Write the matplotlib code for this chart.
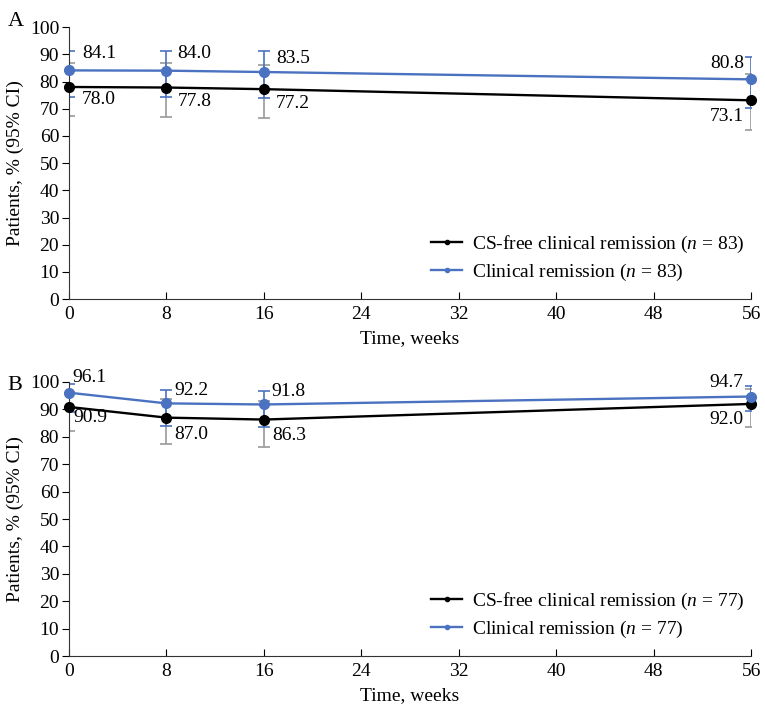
import matplotlib
matplotlib.use("Agg")
import matplotlib.pyplot as plt

plt.rcParams["font.family"] = ["Liberation Serif", "DejaVu Serif"]
plt.rcParams["font.size"] = 14
plt.rcParams["mathtext.fontset"] = "custom"
plt.rcParams["mathtext.it"] = "Liberation Serif:italic"
plt.rcParams["mathtext.rm"] = "Liberation Serif"

weeks = [0, 8, 16, 56]

# Panel A (n = 83)
a_cs = [78.0, 77.8, 77.2, 73.1]
a_cs_lo = [67.3, 67.0, 66.5, 62.1]
a_cs_hi = [86.8, 86.8, 86.0, 82.6]
a_cr = [84.1, 84.0, 83.5, 80.8]
a_cr_lo = [74.3, 74.2, 73.9, 70.3]
a_cr_hi = [91.2, 91.2, 91.2, 89.0]

# Panel B (n = 77)
b_cs = [90.9, 87.0, 86.3, 92.0]
b_cs_lo = [82.2, 77.4, 76.4, 83.6]
b_cs_hi = [96.3, 93.8, 93.2, 97.4]
b_cr = [96.1, 92.2, 91.8, 94.7]
b_cr_lo = [89.0, 84.0, 83.6, 89.4]
b_cr_hi = [99.2, 97.1, 96.8, 98.5]

BLUE = "#4a72c0"
GRAY = "#9a9a9a"

# label offsets in pixels (dx, dy, ha) per point
off_top_a = [(13, 17, "left"), (11, 17, "left"), (12, 14, "left"), (-7, 16, "right")]
off_bot_a = [(13, -13, "left"), (11, -14, "left"), (12, -14, "left"), (-7, -16, "right")]
off_top_b = [(4, 15, "left"), (8, 13, "left"), (8, 13, "left"), (-8, 14, "right")]
off_bot_b = [(5, -11, "left"), (8, -17, "left"), (8, -16, "left"), (-8, -16, "right")]


def panel(ax, cs, cs_lo, cs_hi, cr, cr_lo, cr_hi, n, off_top, off_bot):
    ax.errorbar(weeks, cs, yerr=[[v - l for v, l in zip(cs, cs_lo)], [h - v for v, h in zip(cs, cs_hi)]],
                fmt="none", ecolor=GRAY, elinewidth=1.2, capsize=4, capthick=1.2, zorder=2)
    ax.errorbar(weeks, cr, yerr=[[v - l for v, l in zip(cr, cr_lo)], [h - v for v, h in zip(cr, cr_hi)]],
                fmt="none", ecolor=BLUE, elinewidth=1.2, capsize=4, capthick=1.2, zorder=2)
    ax.plot(weeks, cs, color="black", lw=1.7, marker="o", ms=7, zorder=3, clip_on=False)
    ax.plot(weeks, cr, color=BLUE, lw=1.7, marker="o", ms=7, zorder=3, clip_on=False)
    for x, v, (dx, dy, ha) in zip(weeks, cr, off_top):
        ax.annotate(f"{v:.1f}", (x, v), xytext=(dx, dy), textcoords="offset pixels",
                    ha=ha, va="center")
    for x, v, (dx, dy, ha) in zip(weeks, cs, off_bot):
        ax.annotate(f"{v:.1f}", (x, v), xytext=(dx, dy), textcoords="offset pixels",
                    ha=ha, va="center")

    h1, = ax.plot([], [], color="black", lw=1.7, marker="o", ms=3)
    h2, = ax.plot([], [], color=BLUE, lw=1.7, marker="o", ms=3)
    ax.legend([h1, h2], [f"CS-free clinical remission ($n$ = {n})", f"Clinical remission ($n$ = {n})"],
              loc="lower right", bbox_to_anchor=(1.005, 0.025), frameon=False,
              handlelength=1.6, handletextpad=0.5, labelspacing=0.35, borderpad=0)

    ax.set_xlim(0, 56)
    ax.set_ylim(0, 100)
    ax.set_xticks(range(0, 57, 8))
    ax.set_yticks(range(0, 101, 10))
    ax.tick_params(axis="x", direction="in", length=5, pad=5)
    ax.tick_params(axis="y", direction="out", length=5, pad=2)
    for s in ("top", "right"):
        ax.spines[s].set_visible(False)
    for s in ("left", "bottom"):
        ax.spines[s].set_color("#333333")
    ax.set_xlabel("Time, weeks", labelpad=5)
    ax.set_ylabel("Patients, % (95% CI)", labelpad=4)


fig = plt.figure(figsize=(7.65, 7.14), dpi=100)
ax_a = fig.add_axes([0.090, 0.581, 0.892, 0.381])
ax_b = fig.add_axes([0.090, 0.081, 0.892, 0.384])

panel(ax_a, a_cs, a_cs_lo, a_cs_hi, a_cr, a_cr_lo, a_cr_hi, 83, off_top_a, off_bot_a)
panel(ax_b, b_cs, b_cs_lo, b_cs_hi, b_cr, b_cr_lo, b_cr_hi, 77, off_top_b, off_bot_b)

fig.text(0.010, 0.970, "A", fontsize=16, va="center")
fig.text(0.010, 0.460, "B", fontsize=16, va="center")

fig.savefig("out.png", dpi=100)
